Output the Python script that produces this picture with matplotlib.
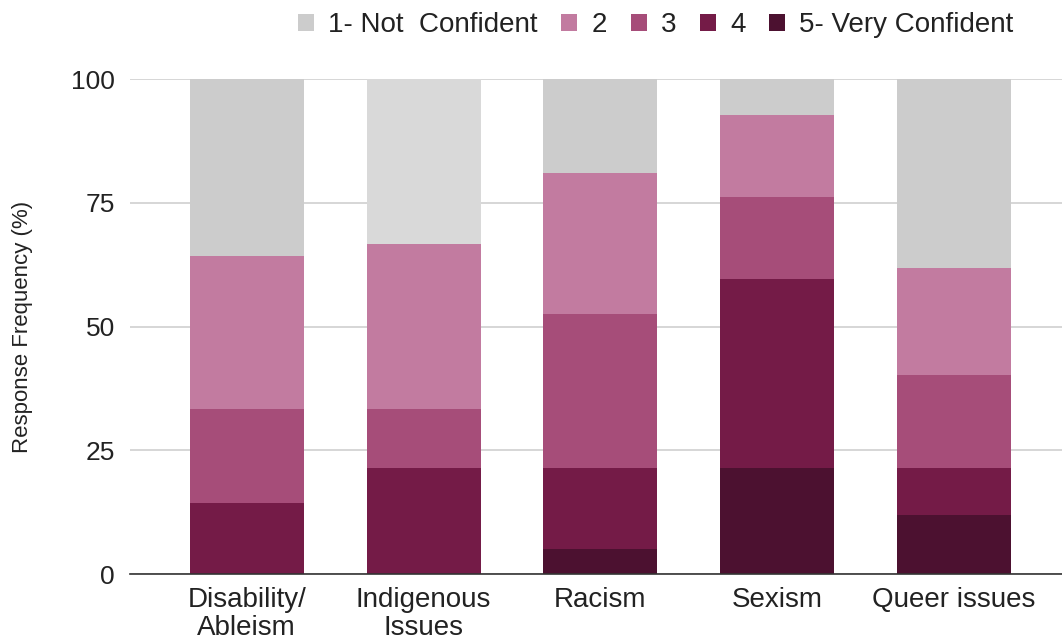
import numpy as np
import matplotlib.pyplot as plt

plt.rcParams['font.family'] = ['Liberation Sans', 'DejaVu Sans']

categorias = ["Disability/\nAbleism", "Indigenous\nIssues", "Racism", "Sexism", "Queer issues"]
niveles = ["1- Not  Confident", "2", "3", "4", "5- Very Confident"]

# porcentajes por nivel (de abajo hacia arriba: 5, 4, 3, 2, 1)
nivel5 = [0.0, 0.0, 5.0, 21.4, 12.0]
nivel4 = [14.3, 21.4, 16.4, 38.2, 9.4]
nivel3 = [19.0, 11.9, 31.1, 16.6, 18.8]
nivel2 = [31.0, 33.4, 28.5, 16.5, 21.6]
nivel1 = [35.7, 33.3, 19.0, 7.3, 38.2]

colores = {"1": "#cccccc", "2": "#c27ba0", "3": "#a64d79", "4": "#741b47", "5": "#4c1130"}

fig = plt.figure(figsize=(10.62, 6.41), dpi=100)
ax = fig.add_axes([0.1224, 0.1045, 0.8776, 0.7722])

x = np.arange(len(categorias))
ancho = 0.645
base = np.zeros(len(categorias))
series = [(nivel5, "5"), (nivel4, "4"), (nivel3, "3"), (nivel2, "2"), (nivel1, "1")]
barras = {}
for valores, clave in series:
    c = [colores[clave]] * len(categorias)
    if clave == "1":
        c[1] = "#d9d9d9"  # la barra de Indigenous aparece resaltada
    barras[clave] = ax.bar(x, valores, ancho, bottom=base, color=c, linewidth=0, zorder=2)
    base = base + np.array(valores)

ax.set_ylim(0, 100)
ax.set_xlim(-0.66, 4.61)
ax.set_yticks([0, 25, 50, 75, 100])
ax.set_xticks(x)
ax.set_xticklabels(categorias, fontsize=20, color="#222222", linespacing=1.1)
ax.tick_params(axis="y", labelsize=19, colors="#222222", length=0, pad=11)
ax.tick_params(axis="x", length=0, pad=9)
ax.grid(axis="y", color="#d0d0d0", linewidth=1.2, zorder=0)
for s in ["top", "right", "left"]:
    ax.spines[s].set_visible(False)
ax.spines["bottom"].set_color("#333333")
ax.spines["bottom"].set_linewidth(1.2)
ax.spines["bottom"].set_zorder(3)
ax.set_ylabel("Response Frequency (%)", fontsize=16, color="#222222", labelpad=27)

handles = [barras[k] for k in ["1", "2", "3", "4", "5"]]
leg = fig.legend(handles, niveles, loc="upper right", bbox_to_anchor=(0.978, 1.02), ncol=5,
                 frameon=False, fontsize=20, handlelength=0.58, handleheight=0.58,
                 handletextpad=0.5, columnspacing=0.86, labelcolor="#222222")
leg.legend_handles[0].set_facecolor("#cccccc")

fig.savefig("out.png", dpi=100)
